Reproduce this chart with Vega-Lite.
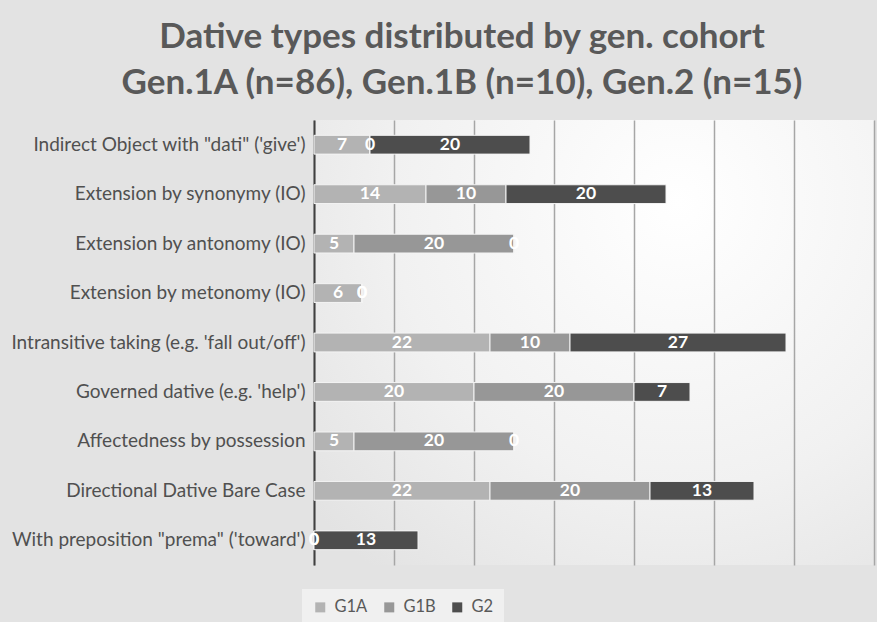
{
  "$schema": "https://vega.github.io/schema/vega-lite/v6.json",
  "width": 560,
  "height": 445,
  "autosize": {"type": "none"},
  "padding": {"left": 314, "top": 120, "right": 3, "bottom": 57},
  "background": "#e3e3e3",
  "view": {
    "stroke": null,
    "fill": {
      "gradient": "radial",
      "x1": 0.65, "y1": 0.25, "r1": 0,
      "x2": 0.65, "y2": 0.25, "r2": 0.85,
      "stops": [
        {"offset": 0, "color": "#ffffff"},
        {"offset": 0.6, "color": "#f1f1f1"},
        {"offset": 1, "color": "#e3e3e3"}
      ]
    }
  },
  "title": {
    "text": ["Dative types distributed by gen. cohort", "Gen.1A (n=86), Gen.1B (n=10), Gen.2 (n=15)"],
    "font": "Lato",
    "fontSize": 35,
    "fontWeight": "bold",
    "color": "#595959",
    "anchor": "middle",
    "frame": "group",
    "dx": -132,
    "lineHeight": 46,
    "offset": 19
  },
  "data": {
    "values": [
      {"category": "Indirect Object with \"dati\" ('give')", "cohort": "G1A", "n": 7},
      {"category": "Indirect Object with \"dati\" ('give')", "cohort": "G1B", "n": 0},
      {"category": "Indirect Object with \"dati\" ('give')", "cohort": "G2", "n": 20},
      {"category": "Extension by synonymy (IO)", "cohort": "G1A", "n": 14},
      {"category": "Extension by synonymy (IO)", "cohort": "G1B", "n": 10},
      {"category": "Extension by synonymy (IO)", "cohort": "G2", "n": 20},
      {"category": "Extension by antonomy (IO)", "cohort": "G1A", "n": 5},
      {"category": "Extension by antonomy (IO)", "cohort": "G1B", "n": 20},
      {"category": "Extension by antonomy (IO)", "cohort": "G2", "n": 0},
      {"category": "Extension by metonomy (IO)", "cohort": "G1A", "n": 6},
      {"category": "Extension by metonomy (IO)", "cohort": "G1B", "n": 0},
      {"category": "Extension by metonomy (IO)", "cohort": "G2", "n": 0},
      {"category": "Intransitive taking (e.g. 'fall out/off')", "cohort": "G1A", "n": 22},
      {"category": "Intransitive taking (e.g. 'fall out/off')", "cohort": "G1B", "n": 10},
      {"category": "Intransitive taking (e.g. 'fall out/off')", "cohort": "G2", "n": 27},
      {"category": "Governed dative (e.g. 'help')", "cohort": "G1A", "n": 20},
      {"category": "Governed dative (e.g. 'help')", "cohort": "G1B", "n": 20},
      {"category": "Governed dative (e.g. 'help')", "cohort": "G2", "n": 7},
      {"category": "Affectedness by possession", "cohort": "G1A", "n": 5},
      {"category": "Affectedness by possession", "cohort": "G1B", "n": 20},
      {"category": "Affectedness by possession", "cohort": "G2", "n": 0},
      {"category": "Directional Dative Bare Case", "cohort": "G1A", "n": 22},
      {"category": "Directional Dative Bare Case", "cohort": "G1B", "n": 20},
      {"category": "Directional Dative Bare Case", "cohort": "G2", "n": 13},
      {"category": "With preposition \"prema\" ('toward')", "cohort": "G1A", "n": 0},
      {"category": "With preposition \"prema\" ('toward')", "cohort": "G1B", "n": 0},
      {"category": "With preposition \"prema\" ('toward')", "cohort": "G2", "n": 13}
    ]
  },
  "encoding": {
    "y": {
      "field": "category",
      "type": "nominal",
      "sort": null,
      "title": null,
      "scale": {"paddingInner": 0.62, "paddingOuter": 0.31},
      "axis": {
        "ticks": false,
        "grid": false,
        "domainColor": "#404040",
        "domainWidth": 2,
        "labelFont": "Lato",
        "labelFontSize": 19,
        "labelColor": "#505050",
        "labelPadding": 9,
        "labelLimit": 400
      }
    },
    "x": {
      "field": "n",
      "type": "quantitative",
      "stack": "zero",
      "title": null,
      "scale": {"domain": [0, 70], "nice": false},
      "axis": {
        "values": [0, 10, 20, 30, 40, 50, 60, 70],
        "labels": false,
        "ticks": false,
        "domain": false,
        "grid": true,
        "gridColor": "#a6a6a6",
        "gridWidth": 1.5
      }
    },
    "order": {"field": "cohort", "sort": "ascending"}
  },
  "layer": [
    {
      "mark": {"type": "bar", "stroke": "#f4f4f4", "strokeWidth": 1},
      "encoding": {
        "color": {
          "field": "cohort",
          "type": "nominal",
          "title": null,
          "scale": {"domain": ["G1A", "G1B", "G2"], "range": ["#b3b3b3", "#979797", "#4d4d4d"]},
          "legend": {
            "orient": "none",
            "legendX": -12,
            "legendY": 469,
            "direction": "horizontal",
            "symbolType": "square",
            "symbolSize": 100,
            "symbolStrokeWidth": 0,
            "labelFont": "Lato",
            "labelFontSize": 16.5,
            "labelColor": "#595959",
            "labelOffset": 6,
            "columnPadding": 13,
            "fillColor": "#f0f0f0",
            "padding": 10
          }
        }
      }
    },
    {
      "mark": {"type": "text", "color": "#ffffff", "font": "Lato", "fontWeight": "bold", "fontSize": 17.5},
      "encoding": {
        "x": {"field": "n", "type": "quantitative", "stack": "zero", "bandPosition": 0.5},
        "detail": {"field": "cohort"},
        "text": {"field": "n", "type": "quantitative"}
      }
    }
  ]
}
